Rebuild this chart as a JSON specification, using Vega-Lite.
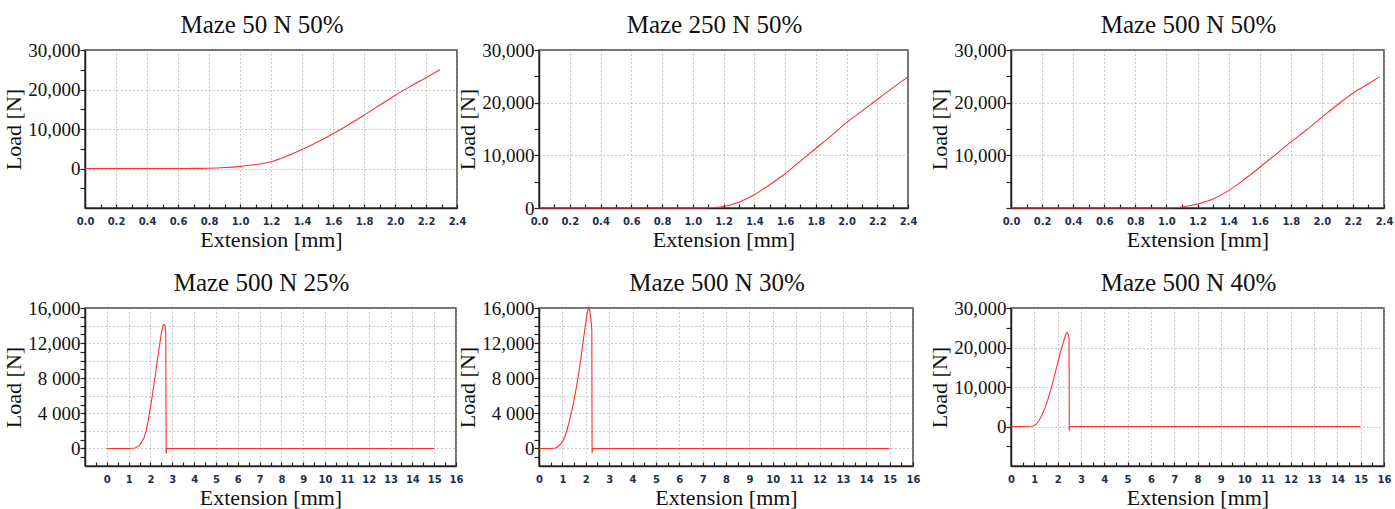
{
  "$schema": "https://vega.github.io/schema/vega-lite/v6.json",
  "padding": {"left": 1, "top": 12, "right": 5, "bottom": 5},
  "background": "white",
  "columns": 6,
  "align": "none",
  "bounds": "flush",
  "spacing": {"row": 100, "column": 0},
  "config": {
    "view": {"stroke": null},
    "title": {"font": "Liberation Serif", "fontSize": 25, "fontWeight": "normal", "color": "#111", "baseline": "alphabetic", "offset": 3, "dx": -9},
    "axis": {"domainColor": "#222", "domainWidth": 1.5, "tickColor": "#222", "tickWidth": 1.2, "gridColor": "#999", "gridDash": [1, 3], "gridWidth": 1, "titleFont": "Liberation Serif", "titleFontSize": 22, "titleFontWeight": "normal", "titleColor": "#111"},
    "axisX": {"labelFont": "DejaVu Sans", "labelFontSize": 10, "labelFontWeight": "bold", "labelColor": "#1c2f4f", "tickSize": -4, "labelPadding": 12, "titlePadding": 4, "minExtent": 17, "maxExtent": 17, "labelFlush": false, "labelOverlap": false},
    "axisY": {"labelFont": "Liberation Serif", "labelFontSize": 19, "labelColor": "#111", "tickSize": 5, "labelPadding": 0, "minExtent": 56, "maxExtent": 56, "titlePadding": 4, "labelOverlap": false}
  },
  "concat": [
    {"width": 1, "height": 10, "view": {"stroke": null}, "data": {"values": []}, "mark": "point", "encoding": {}},
    {
      "width": 372, "height": 158, "view": {"stroke": "#444", "strokeWidth": 1.5},
      "title": "Maze 50 N 50%",
      "data": {"values": [
        {"x": 0, "y": 0}, {"x": 0.2, "y": 0}, {"x": 0.4, "y": 0}, {"x": 0.6, "y": 0}, {"x": 0.7, "y": 20}, {"x": 0.8, "y": 80}, {"x": 0.9, "y": 250}, {"x": 1.0, "y": 550}, {"x": 1.1, "y": 1000}, {"x": 1.2, "y": 1700}, {"x": 1.3, "y": 3100}, {"x": 1.4, "y": 4800}, {"x": 1.5, "y": 6700}, {"x": 1.6, "y": 8800}, {"x": 1.7, "y": 11100}, {"x": 1.8, "y": 13500}, {"x": 1.9, "y": 16000}, {"x": 2.0, "y": 18500}, {"x": 2.1, "y": 20800}, {"x": 2.2, "y": 23000}, {"x": 2.29, "y": 25000}
      ]},
      "mark": {"type": "line", "color": "#ff3030", "strokeWidth": 1.1, "interpolate": "monotone"},
      "encoding": {
        "x": {"field": "x", "type": "quantitative", "scale": {"domain": [0, 2.4], "nice": false, "zero": false},
          "axis": {"title": "Extension [mm]", "values": [0, 0.1, 0.2, 0.3, 0.4, 0.5, 0.6, 0.7, 0.8, 0.9, 1.0, 1.1, 1.2, 1.3, 1.4, 1.5, 1.6, 1.7, 1.8, 1.9, 2.0, 2.1, 2.2, 2.3, 2.4],
            "labelExpr": "round(datum.value*10) % 2 === 0 ? format(datum.value, '.1f') : ''",
            "gridOpacity": {"condition": {"test": "round(datum.value*10) % 2 === 0", "value": 1}, "value": 0}}},
        "y": {"field": "y", "type": "quantitative", "scale": {"domain": [-10000, 30000], "nice": false, "zero": false},
          "axis": {"title": "Load [N]", "values": [-5000, 0, 5000, 10000, 15000, 20000, 25000, 30000],
            "labelExpr": "datum.value % 10000 === 0 && datum.value >= 0 ? format(datum.value, ',') : ''",
            "gridOpacity": {"condition": {"test": "datum.value % 10000 === 0", "value": 1}, "value": 0}}},
        "order": {"value": null}
      }
    },
    {"width": 79, "height": 10, "view": {"stroke": null}, "data": {"values": []}, "mark": "point", "encoding": {}},
    {
      "width": 369, "height": 158, "view": {"stroke": "#444", "strokeWidth": 1.5},
      "title": "Maze 250 N 50%",
      "data": {"values": [
        {"x": 0, "y": 0}, {"x": 0.5, "y": 0}, {"x": 1.0, "y": 0}, {"x": 1.1, "y": 50}, {"x": 1.2, "y": 300}, {"x": 1.3, "y": 1100}, {"x": 1.4, "y": 2500}, {"x": 1.5, "y": 4400}, {"x": 1.6, "y": 6500}, {"x": 1.7, "y": 8900}, {"x": 1.8, "y": 11300}, {"x": 1.9, "y": 13700}, {"x": 2.0, "y": 16200}, {"x": 2.1, "y": 18400}, {"x": 2.2, "y": 20600}, {"x": 2.3, "y": 22800}, {"x": 2.4, "y": 24900}
      ]},
      "mark": {"type": "line", "color": "#ff3030", "strokeWidth": 1.1, "interpolate": "monotone"},
      "encoding": {
        "x": {"field": "x", "type": "quantitative", "scale": {"domain": [0, 2.4], "nice": false, "zero": false},
          "axis": {"title": "Extension [mm]", "values": [0, 0.1, 0.2, 0.3, 0.4, 0.5, 0.6, 0.7, 0.8, 0.9, 1.0, 1.1, 1.2, 1.3, 1.4, 1.5, 1.6, 1.7, 1.8, 1.9, 2.0, 2.1, 2.2, 2.3, 2.4],
            "labelExpr": "round(datum.value*10) % 2 === 0 ? format(datum.value, '.1f') : ''",
            "gridOpacity": {"condition": {"test": "round(datum.value*10) % 2 === 0", "value": 1}, "value": 0}}},
        "y": {"field": "y", "type": "quantitative", "scale": {"domain": [0, 30000], "nice": false, "zero": false},
          "axis": {"title": "Load [N]", "values": [0, 5000, 10000, 15000, 20000, 25000, 30000],
            "labelExpr": "datum.value % 10000 === 0 ? format(datum.value, ',') : ''",
            "gridOpacity": {"condition": {"test": "datum.value % 10000 === 0", "value": 1}, "value": 0}}},
        "order": {"value": null}
      }
    },
    {"width": 98, "height": 10, "view": {"stroke": null}, "data": {"values": []}, "mark": "point", "encoding": {}},
    {
      "width": 373, "height": 158, "view": {"stroke": "#444", "strokeWidth": 1.5},
      "title": "Maze 500 N 50%",
      "data": {"values": [
        {"x": 0, "y": 0}, {"x": 0.5, "y": 0}, {"x": 0.9, "y": 0}, {"x": 1.0, "y": 50}, {"x": 1.1, "y": 200}, {"x": 1.2, "y": 750}, {"x": 1.3, "y": 1700}, {"x": 1.4, "y": 3300}, {"x": 1.5, "y": 5400}, {"x": 1.6, "y": 7700}, {"x": 1.7, "y": 10100}, {"x": 1.8, "y": 12500}, {"x": 1.9, "y": 14800}, {"x": 2.0, "y": 17200}, {"x": 2.1, "y": 19600}, {"x": 2.2, "y": 21800}, {"x": 2.3, "y": 23600}, {"x": 2.37, "y": 24900}
      ]},
      "mark": {"type": "line", "color": "#ff3030", "strokeWidth": 1.1, "interpolate": "monotone"},
      "encoding": {
        "x": {"field": "x", "type": "quantitative", "scale": {"domain": [0, 2.4], "nice": false, "zero": false},
          "axis": {"title": "Extension [mm]", "values": [0, 0.1, 0.2, 0.3, 0.4, 0.5, 0.6, 0.7, 0.8, 0.9, 1.0, 1.1, 1.2, 1.3, 1.4, 1.5, 1.6, 1.7, 1.8, 1.9, 2.0, 2.1, 2.2, 2.3, 2.4],
            "labelExpr": "round(datum.value*10) % 2 === 0 ? format(datum.value, '.1f') : ''",
            "gridOpacity": {"condition": {"test": "round(datum.value*10) % 2 === 0", "value": 1}, "value": 0}}},
        "y": {"field": "y", "type": "quantitative", "scale": {"domain": [0, 30000], "nice": false, "zero": false},
          "axis": {"title": "Load [N]", "values": [0, 5000, 10000, 15000, 20000, 25000, 30000],
            "labelExpr": "datum.value % 10000 === 0 && datum.value > 0 ? format(datum.value, ',') : ''",
            "gridOpacity": {"condition": {"test": "datum.value % 10000 === 0", "value": 1}, "value": 0}}},
        "order": {"value": null}
      }
    },
    {"width": 10, "height": 10, "view": {"stroke": null}, "data": {"values": []}, "mark": "point", "encoding": {}},
    {
      "width": 371, "height": 158, "view": {"stroke": "#444", "strokeWidth": 1.5},
      "title": "Maze 500 N 25%",
      "data": {"values": [
        {"x": 0, "y": 0}, {"x": 1.0, "y": 0}, {"x": 1.3, "y": 50}, {"x": 1.5, "y": 350}, {"x": 1.7, "y": 1200}, {"x": 1.8, "y": 2000}, {"x": 1.9, "y": 3200}, {"x": 2.0, "y": 4700}, {"x": 2.1, "y": 6300}, {"x": 2.2, "y": 8000}, {"x": 2.3, "y": 9800}, {"x": 2.4, "y": 11500}, {"x": 2.5, "y": 13100}, {"x": 2.58, "y": 14000}, {"x": 2.62, "y": 14150}, {"x": 2.66, "y": 14000}, {"x": 2.7, "y": 13200}, {"x": 2.72, "y": -600}, {"x": 2.74, "y": 0}, {"x": 15, "y": 0}
      ]},
      "mark": {"type": "line", "color": "#ff3030", "strokeWidth": 1.1},
      "encoding": {
        "x": {"field": "x", "type": "quantitative", "scale": {"domain": [-1, 16], "nice": false, "zero": false},
          "axis": {"title": "Extension [mm]", "values": [-0.5, 0, 0.5, 1, 1.5, 2, 2.5, 3, 3.5, 4, 4.5, 5, 5.5, 6, 6.5, 7, 7.5, 8, 8.5, 9, 9.5, 10, 10.5, 11, 11.5, 12, 12.5, 13, 13.5, 14, 14.5, 15, 15.5, 16],
            "labelExpr": "datum.value % 1 === 0 && datum.value >= 0 ? format(datum.value, 'd') : ''",
            "gridOpacity": {"condition": {"test": "datum.value % 1 === 0", "value": 1}, "value": 0}}},
        "y": {"field": "y", "type": "quantitative", "scale": {"domain": [-2000, 16000], "nice": false, "zero": false},
          "axis": {"title": "Load [N]", "values": [-1000, 0, 1000, 2000, 3000, 4000, 5000, 6000, 7000, 8000, 9000, 10000, 11000, 12000, 13000, 14000, 15000, 16000],
            "labelExpr": "datum.value % 4000 === 0 && datum.value >= 0 ? (datum.value >= 10000 ? format(datum.value, ',') : replace(format(datum.value, ','), ',', ' ')) : ''",
            "gridOpacity": {"condition": {"test": "datum.value % 2000 === 0", "value": 1}, "value": 0}}},
        "order": {"value": null}
      }
    },
    {"width": 82, "height": 10, "view": {"stroke": null}, "data": {"values": []}, "mark": "point", "encoding": {}},
    {
      "width": 374, "height": 158, "view": {"stroke": "#444", "strokeWidth": 1.5},
      "title": "Maze 500 N 30%",
      "data": {"values": [
        {"x": 0, "y": 0}, {"x": 0.5, "y": 0}, {"x": 0.7, "y": 50}, {"x": 0.8, "y": 200}, {"x": 0.9, "y": 450}, {"x": 1.0, "y": 750}, {"x": 1.1, "y": 1300}, {"x": 1.2, "y": 2100}, {"x": 1.3, "y": 3100}, {"x": 1.4, "y": 4300}, {"x": 1.5, "y": 5500}, {"x": 1.6, "y": 7000}, {"x": 1.7, "y": 8600}, {"x": 1.8, "y": 10400}, {"x": 1.9, "y": 12400}, {"x": 2.0, "y": 14300}, {"x": 2.07, "y": 15500}, {"x": 2.12, "y": 16000}, {"x": 2.17, "y": 15700}, {"x": 2.22, "y": 14700}, {"x": 2.26, "y": 13500}, {"x": 2.27, "y": -500}, {"x": 2.3, "y": 0}, {"x": 15, "y": 0}
      ]},
      "mark": {"type": "line", "color": "#ff3030", "strokeWidth": 1.1},
      "encoding": {
        "x": {"field": "x", "type": "quantitative", "scale": {"domain": [0, 16], "nice": false, "zero": false},
          "axis": {"title": "Extension [mm]", "values": [0, 0.5, 1, 1.5, 2, 2.5, 3, 3.5, 4, 4.5, 5, 5.5, 6, 6.5, 7, 7.5, 8, 8.5, 9, 9.5, 10, 10.5, 11, 11.5, 12, 12.5, 13, 13.5, 14, 14.5, 15, 15.5, 16],
            "labelExpr": "datum.value % 1 === 0 ? format(datum.value, 'd') : ''",
            "gridOpacity": {"condition": {"test": "datum.value % 1 === 0", "value": 1}, "value": 0}}},
        "y": {"field": "y", "type": "quantitative", "scale": {"domain": [-2000, 16000], "nice": false, "zero": false},
          "axis": {"title": "Load [N]", "values": [-1000, 0, 1000, 2000, 3000, 4000, 5000, 6000, 7000, 8000, 9000, 10000, 11000, 12000, 13000, 14000, 15000, 16000],
            "labelExpr": "datum.value % 4000 === 0 && datum.value >= 0 ? (datum.value >= 10000 ? format(datum.value, ',') : replace(format(datum.value, ','), ',', ' ')) : ''",
            "gridOpacity": {"condition": {"test": "datum.value % 2000 === 0", "value": 1}, "value": 0}}},
        "order": {"value": null}
      }
    },
    {"width": 78, "height": 10, "view": {"stroke": null}, "data": {"values": []}, "mark": "point", "encoding": {}},
    {
      "width": 373, "height": 158, "view": {"stroke": "#444", "strokeWidth": 1.5},
      "title": "Maze 500 N 40%",
      "data": {"values": [
        {"x": 0, "y": 0}, {"x": 0.5, "y": 0}, {"x": 0.9, "y": 50}, {"x": 1.0, "y": 250}, {"x": 1.1, "y": 700}, {"x": 1.2, "y": 1500}, {"x": 1.3, "y": 2600}, {"x": 1.4, "y": 3900}, {"x": 1.5, "y": 5400}, {"x": 1.6, "y": 7200}, {"x": 1.7, "y": 9200}, {"x": 1.8, "y": 11400}, {"x": 1.9, "y": 13700}, {"x": 2.0, "y": 16000}, {"x": 2.1, "y": 18300}, {"x": 2.2, "y": 20400}, {"x": 2.3, "y": 22400}, {"x": 2.37, "y": 23600}, {"x": 2.42, "y": 23800}, {"x": 2.46, "y": 23300}, {"x": 2.49, "y": 22300}, {"x": 2.5, "y": -1000}, {"x": 2.53, "y": 0}, {"x": 15, "y": 0}
      ]},
      "mark": {"type": "line", "color": "#ff3030", "strokeWidth": 1.1},
      "encoding": {
        "x": {"field": "x", "type": "quantitative", "scale": {"domain": [0, 16], "nice": false, "zero": false},
          "axis": {"title": "Extension [mm]", "values": [0, 0.5, 1, 1.5, 2, 2.5, 3, 3.5, 4, 4.5, 5, 5.5, 6, 6.5, 7, 7.5, 8, 8.5, 9, 9.5, 10, 10.5, 11, 11.5, 12, 12.5, 13, 13.5, 14, 14.5, 15, 15.5, 16],
            "labelExpr": "datum.value % 1 === 0 ? format(datum.value, 'd') : ''",
            "gridOpacity": {"condition": {"test": "datum.value % 1 === 0", "value": 1}, "value": 0}}},
        "y": {"field": "y", "type": "quantitative", "scale": {"domain": [-10000, 30000], "nice": false, "zero": false},
          "axis": {"title": "Load [N]", "values": [-5000, 0, 5000, 10000, 15000, 20000, 25000, 30000],
            "labelExpr": "datum.value % 10000 === 0 && datum.value >= 0 ? format(datum.value, ',') : ''",
            "gridOpacity": {"condition": {"test": "datum.value % 10000 === 0", "value": 1}, "value": 0}}},
        "order": {"value": null}
      }
    }
  ]
}
